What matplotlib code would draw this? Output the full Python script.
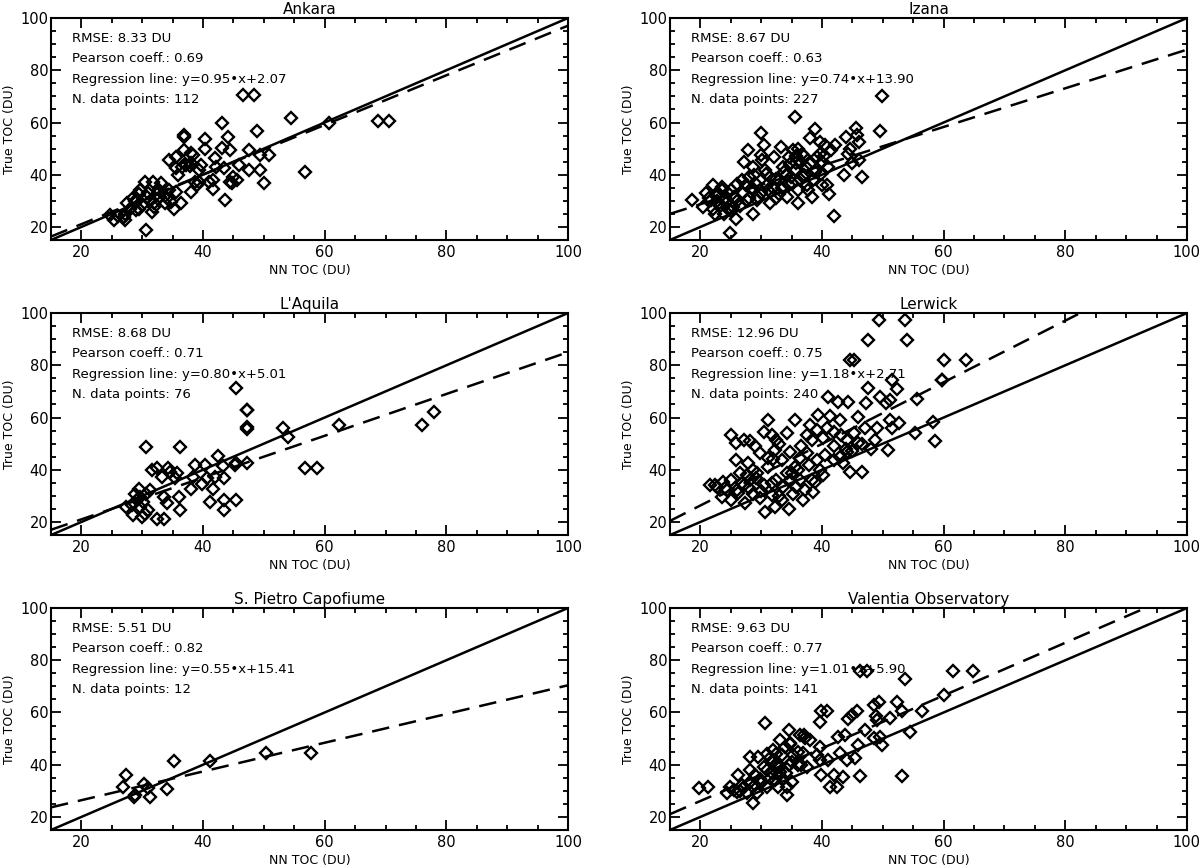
import numpy as np
import matplotlib
matplotlib.use('Agg')
from matplotlib import pyplot as plt
from matplotlib.ticker import MultipleLocator

# --- data (NN TOC, True TOC in DU) ---
ankara_x = [30.6, 25.3, 24.7, 27.2, 27.2, 27.5, 28.8, 29.0, 29.4, 29.7, 30.5, 30.0, 31.3, 31.6, 31.8,
            31.9, 32.5, 33.1, 33.8, 34.4, 34.7, 35.3, 35.6, 35.9, 36.3, 34.4, 35.6, 35.6, 36.8, 36.8,
            36.9, 37.2, 37.8, 38.1, 38.4, 38.1, 38.75, 39.0, 39.4, 39.4, 39.7, 40.3, 40.4, 40.9, 41.6,
            41.6, 41.9, 42.2, 43.1, 43.1, 43.4, 43.6, 44.1, 44.4, 44.4, 44.7, 45.0, 45.6, 45.9, 46.6,
            48.4, 47.5, 47.5, 48.9, 49.3, 49.4, 50.0, 50.9, 54.5, 56.7, 60.75, 68.75, 70.6,
            28.0, 28.5, 29.5, 30.8, 31.0, 32.0, 33.0, 32.8, 34.0, 27.0, 26.0, 29.0, 37.0, 38.0, 36.5]
ankara_y = [19.0, 22.6, 24.5, 22.6, 25.0, 29.0, 30.0, 26.4, 32.8, 34.0, 37.3, 28.3, 30.0, 25.8, 37.3,
            27.7, 32.8, 36.7, 29.0, 34.0, 29.6, 27.0, 33.5, 39.9, 29.0, 45.6, 46.9, 42.4, 55.3, 54.6,
            49.5, 43.7, 43.3, 48.2, 47.6, 33.5, 37.3, 36.0, 37.3, 41.8, 43.7, 53.6, 49.7, 37.3, 34.7,
            38.0, 46.3, 43.0, 59.7, 50.1, 42.4, 30.3, 54.4, 49.5, 37.3, 36.7, 39.2, 38.0, 43.7, 70.6,
            70.6, 49.5, 41.8, 56.9, 47.6, 41.8, 36.7, 47.6, 61.7, 40.9, 59.7, 60.4, 60.4,
            27.0, 31.0, 27.0, 31.5, 33.0, 29.0, 31.5, 34.0, 31.0, 24.0, 24.2, 29.5, 44.0, 44.5, 43.0]

izana_x = [18.6, 22.1, 20.5, 22.4, 23.9, 24.9, 25.8, 24.25, 23.0, 23.6, 21.75, 25.5, 26.1, 27.1, 27.9,
           28.0, 28.6, 28.6, 28.9, 28.9, 29.3, 29.9, 29.9, 30.2, 30.5, 30.8, 31.1, 31.4, 32.1, 32.4,
           33.0, 33.3, 33.6, 34.3, 34.6, 34.9, 35.2, 35.5, 35.8, 36.1, 36.4, 36.75, 37.4, 37.7, 38.0,
           38.3, 38.9, 39.25, 39.6, 39.9, 40.5, 40.8, 41.1, 41.4, 41.9, 42.1, 43.6, 43.9, 44.25, 44.6,
           44.9, 45.6, 45.8, 46.1, 46.1, 46.5, 49.6, 49.9,
           22.5, 23.0, 24.0, 24.5, 25.0, 26.0, 27.0, 27.5, 28.0, 29.0, 30.0, 31.0, 32.0, 33.0, 33.5,
           34.0, 35.0, 35.5, 36.0, 36.5, 37.0, 37.5, 38.0, 38.5, 39.0, 40.0, 40.0, 41.0, 34.5, 32.5,
           26.5, 21.0, 22.0, 23.5, 25.0, 29.5, 31.5, 28.5, 36.0, 37.0, 21.5, 23.2, 24.6, 26.8, 30.6,
           33.8, 35.8, 38.8, 39.6, 22.8, 25.4, 27.6, 34.8, 36.8, 40.4]
izana_y = [30.2, 36.0, 27.7, 25.1, 25.1, 17.8, 23.2, 29.0, 32.8, 35.3, 30.2, 31.5, 36.6, 44.9, 49.4,
           39.2, 43.0, 25.1, 39.8, 34.0, 30.2, 56.0, 47.5, 45.6, 51.3, 40.4, 34.0, 29.0, 46.9, 38.5,
           32.8, 50.7, 43.0, 31.5, 46.9, 39.1, 49.4, 62.2, 44.3, 29.0, 38.5, 48.1, 43.0, 34.0, 53.9,
           31.5, 57.7, 46.9, 52.6, 40.4, 51.3, 36.0, 32.8, 49.4, 24.1, 51.3, 39.8, 54.5, 48.1, 50.0,
           44.3, 58.0, 55.1, 52.6, 45.6, 39.2, 56.6, 70.1,
           32.0, 29.0, 31.0, 27.0, 34.0, 30.0, 33.0, 36.0, 31.0, 37.0, 33.0, 36.0, 35.0, 38.0, 35.0,
           40.0, 37.0, 42.0, 34.0, 45.0, 40.0, 36.0, 44.0, 38.0, 42.0, 45.0, 36.0, 43.0, 36.0, 31.0,
           28.0, 33.0, 27.0, 34.0, 26.0, 31.5, 39.0, 35.0, 50.0, 47.0, 31.0, 28.0, 33.0, 38.0, 42.0,
           41.0, 47.0, 41.0, 48.0, 30.0, 27.5, 30.5, 44.0, 39.0, 47.0]

laquila_x = [45.5, 47.3, 47.2, 47.2, 47.2, 53.2, 54.0, 62.3, 30.6, 36.2, 31.6, 32.4, 33.2, 34.3, 34.6,
             35.4, 38.7, 40.3, 38.4, 38.1, 39.8, 40.6, 41.7, 42.5, 43.3, 42.0, 41.2, 43.4, 43.4, 45.4,
             45.2, 45.4, 47.2, 43.4, 56.8, 58.7, 27.3, 28.5, 29.4, 29.6, 30.2, 29.9, 30.5, 31.0, 31.3,
             30.7, 32.4, 33.5, 33.5, 34.0, 36.0, 36.2, 28.3, 29.1, 28.8, 29.6, 35.7, 76.0, 77.9]
laquila_y = [71.5, 63.0, 63.0, 56.3, 55.5, 55.9, 52.4, 57.0, 48.6, 48.6, 39.9, 40.5, 37.3, 40.5, 39.2,
             36.7, 41.8, 41.8, 37.3, 32.8, 34.7, 36.7, 32.8, 45.3, 41.4, 37.3, 27.7, 28.3, 24.7, 28.6,
             41.8, 42.4, 42.4, 36.7, 40.5, 40.8, 25.8, 22.6, 32.8, 29.6, 27.7, 21.9, 23.2, 24.5, 32.2,
             30.9, 21.3, 21.3, 29.6, 27.1, 29.6, 24.5, 26.4, 28.3, 30.9, 25.8, 38.6, 57.0, 62.2]

lerwick_x = [49.3, 53.7, 47.6, 53.9, 44.6, 45.2, 60.0, 51.5, 52.3, 59.7, 47.6, 41.0, 42.7, 44.3, 47.3,
             49.5, 51.2, 50.6, 55.6, 46.0, 39.4, 41.3, 31.2, 35.6, 51.2, 52.6, 58.3, 58.6, 55.3, 49.0,
             51.5, 48.7, 50.9, 25.1, 25.9, 27.1, 28.2, 30.4, 31.7, 32.5, 34.2, 37.5, 38.3, 39.1, 40.2,
             40.8, 41.9, 43.2, 44.1, 45.2, 46.0, 25.9, 27.9, 29.8, 31.2, 32.3, 33.4, 34.7, 35.6, 36.4,
             37.5, 39.1, 40.5, 41.9, 43.0, 44.1, 43.5, 44.6, 46.5, 40.2, 38.3, 21.6, 22.7, 23.8, 24.3,
             23.5, 25.1, 26.0, 27.1, 27.3, 28.2, 28.7, 29.3, 29.8, 30.4, 30.6, 31.2, 31.7, 32.3, 32.5,
             33.4, 33.6, 34.5, 35.0, 35.3, 35.8, 36.9, 37.2, 38.6, 38.8, 36.4, 34.2, 28.7, 27.6, 26.5,
             25.1, 45.0, 46.5, 48.0, 44.0, 47.0, 43.0, 38.0, 36.5, 33.0, 29.0, 63.7, 59.7,
             22.4, 24.0, 26.2, 28.0, 30.0, 31.8, 33.0, 34.8, 36.0, 37.8, 39.6, 42.0, 26.8, 29.2, 32.0]
lerwick_y = [97.3, 97.3, 89.6, 89.6, 81.9, 81.9, 82.2, 74.5, 70.9, 74.5, 71.3, 67.8, 65.9, 65.9, 65.5,
             67.8, 66.8, 65.5, 67.0, 60.1, 61.0, 60.4, 59.1, 59.1, 59.1, 57.8, 58.1, 51.2, 54.0, 55.9,
             55.9, 51.4, 47.6, 53.3, 50.1, 51.4, 51.2, 54.6, 53.3, 51.4, 54.0, 53.3, 51.4, 55.3, 52.1,
             55.9, 54.6, 53.3, 51.4, 54.0, 50.1, 43.7, 42.4, 46.3, 44.4, 47.6, 43.7, 46.9, 41.2, 44.4,
             46.3, 43.7, 45.6, 43.7, 45.0, 46.9, 42.4, 39.0, 39.0, 37.9, 36.0, 34.1, 33.5, 35.4, 32.2,
             29.6, 28.3, 32.2, 34.1, 27.1, 36.0, 30.9, 38.6, 29.0, 34.1, 23.8, 41.2, 30.3, 25.8, 36.0,
             28.3, 33.5, 25.1, 38.6, 30.9, 33.5, 28.3, 32.2, 31.5, 35.4, 36.0, 38.6, 39.9, 37.9, 38.6,
             36.0, 47.0, 50.0, 48.0, 48.0, 56.0, 59.0, 57.0, 49.0, 50.0, 49.0, 82.2, 74.5,
             34.0, 33.0, 31.0, 33.0, 32.0, 35.0, 30.0, 36.0, 40.0, 42.0, 40.0, 49.0, 35.0, 37.0, 44.0]

pietro_x = [26.9, 27.4, 28.6, 28.8, 30.3, 30.9, 31.3, 34.1, 35.3, 41.1, 50.3, 57.8]
pietro_y = [31.3, 36.2, 27.7, 28.5, 32.5, 30.9, 27.7, 30.7, 41.3, 41.3, 44.6, 44.6]

valentia_x = [19.7, 21.3, 24.3, 24.9, 26.0, 26.2, 26.8, 27.6, 28.2, 28.2, 28.7, 29.0, 29.5, 29.8, 29.3,
              30.4, 30.6, 30.9, 31.4, 31.7, 32.0, 32.3, 32.5, 32.8, 33.1, 33.1, 33.4, 33.6, 33.9, 34.2,
              34.5, 34.5, 34.7, 35.0, 34.2, 35.3, 36.1, 36.4, 36.9, 37.2, 37.5, 38.0, 39.1, 39.7, 39.7,
              39.7, 39.9, 40.8, 39.9, 41.0, 41.9, 41.3, 42.4, 42.7, 43.0, 43.5, 43.8, 44.1, 44.3, 44.9,
              45.7, 45.4, 46.0, 46.2, 46.2, 47.4, 47.1, 48.5, 48.5, 48.8, 49.1, 49.4, 49.5, 49.8, 51.2,
              52.3, 53.1, 53.1, 53.7, 54.5, 56.4, 60.0, 61.6, 64.8,
              31.0, 32.0, 33.0, 30.0, 31.5, 32.5, 34.0, 29.0, 28.0, 27.0, 26.5, 25.5, 33.0, 35.0, 36.0,
              37.0, 36.5, 34.8, 31.0]
valentia_y = [31.2, 31.5, 29.2, 31.5, 29.6, 36.0, 32.2, 29.0, 43.1, 37.9, 25.4, 32.2, 43.1, 34.7, 29.0,
              39.2, 55.9, 31.5, 42.4, 36.7, 45.6, 34.1, 39.9, 31.5, 49.5, 37.3, 43.7, 34.7, 46.9, 31.5,
              53.3, 39.9, 48.2, 33.5, 28.3, 43.7, 39.9, 51.4, 44.4, 50.1, 39.2, 49.5, 43.7, 56.2, 46.9,
              41.8, 60.4, 60.4, 36.0, 41.8, 36.0, 31.5, 31.5, 50.8, 44.4, 35.4, 51.4, 41.8, 57.4, 59.1,
              60.4, 42.4, 47.6, 35.6, 76.0, 76.0, 53.3, 62.9, 50.1, 58.5, 57.2, 64.2, 50.8, 47.6, 57.8,
              64.2, 60.4, 35.6, 72.8, 52.7, 60.4, 66.8, 75.8, 76.0,
              38.0, 41.0, 36.0, 33.0, 35.0, 44.0, 37.0, 36.0, 33.0, 31.0, 30.0, 30.5, 40.0, 41.0, 45.0,
              51.5, 40.0, 48.0, 44.0]

stations = ['Ankara', 'Izana', "L'Aquila", 'Lerwick', 'S. Pietro Capofiume', 'Valentia Observatory']
rmse = ['8.33', '8.67', '8.68', '12.96', '5.51', '9.63']
pearson = ['0.69', '0.63', '0.71', '0.75', '0.82', '0.77']
slope = [0.95, 0.74, 0.80, 1.18, 0.55, 1.01]
intercept = [2.07, 13.90, 5.01, 2.71, 15.41, 5.90]
n_points = [112, 227, 76, 240, 12, 141]
xs = [ankara_x, izana_x, laquila_x, lerwick_x, pietro_x, valentia_x]
ys = [ankara_y, izana_y, laquila_y, lerwick_y, pietro_y, valentia_y]

fig = plt.figure(figsize=(12, 8.68), dpi=100)
lefts = [0.0425, 0.5583]
bottoms = [0.7235, 0.3836, 0.0438]
w, h = 0.4308, 0.2557

for i in range(6):
    ax = fig.add_axes([lefts[i % 2], bottoms[i // 2], w, h])
    line = np.array([15, 100])
    ax.plot(line, line, color='black', lw=1.8)
    ax.plot(line, slope[i] * line + intercept[i], color='black', lw=1.8, dashes=(7, 4))
    ax.plot(xs[i], ys[i], 'D', mfc='none', mec='black', ms=5.8, mew=1.7, ls='none')

    ax.set_xlim(15, 100)
    ax.set_ylim(15, 100)
    ax.xaxis.set_major_locator(MultipleLocator(20))
    ax.xaxis.set_minor_locator(MultipleLocator(5))
    ax.yaxis.set_major_locator(MultipleLocator(20))
    ax.yaxis.set_minor_locator(MultipleLocator(5))
    ax.tick_params(which='both', direction='in', top=True, right=True, width=1.3, labelsize=10.5)
    ax.tick_params(which='major', length=7)
    ax.tick_params(which='minor', length=3.5)
    ax.tick_params(axis='y', pad=2)
    for sp in ax.spines.values():
        sp.set_linewidth(1.5)

    ax.set_title(stations[i], fontsize=11, pad=3)
    ax.set_xlabel('NN TOC (DU)', fontsize=9, labelpad=3)
    ax.set_ylabel('True TOC (DU)', fontsize=9, labelpad=3)

    lines = ['RMSE: %s DU' % rmse[i],
             'Pearson coeff.: %s' % pearson[i],
             'Regression line: y=%.2f\u2022x+%.2f' % (slope[i], intercept[i]),
             'N. data points: %d' % n_points[i]]
    for k, t in enumerate(lines):
        ax.text(0.041, 0.91 - k * 0.093, t, transform=ax.transAxes, fontsize=9.5, va='center', ha='left')

fig.savefig('out.png', dpi=100)
